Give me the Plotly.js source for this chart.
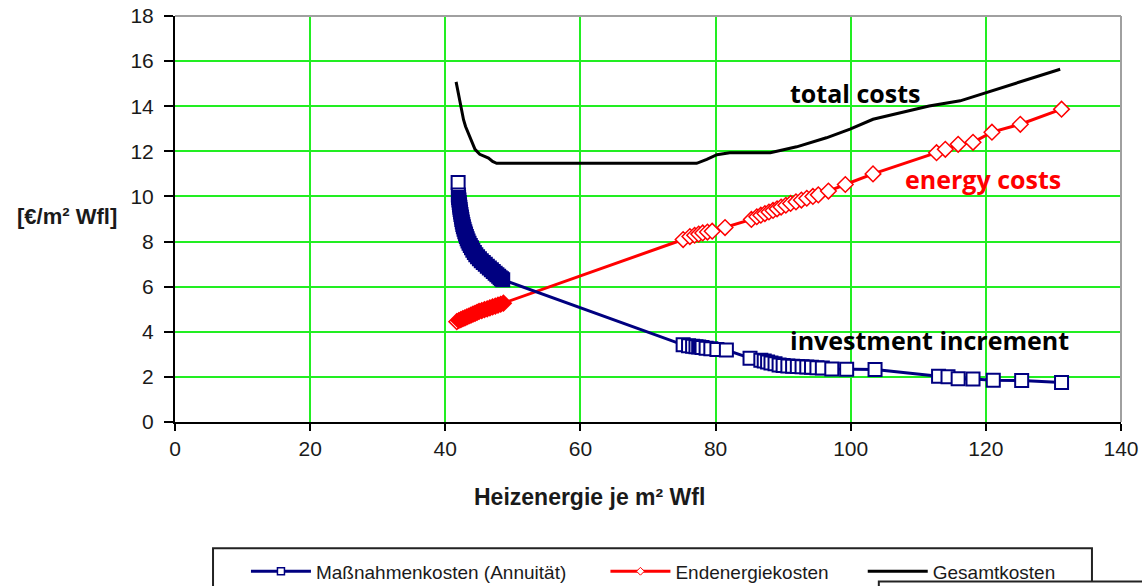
<!DOCTYPE html>
<html>
<head>
<meta charset="utf-8">
<script src="https://cdn.plot.ly/plotly-3.0.1.min.js"></script>
<style>html,body{margin:0;padding:0;background:#fff;}#chart{width:1142px;height:586px;}</style>
</head>
<body>
<div id="chart"></div>
<script>
// Maßnahmenkosten (Annuität) – blue squares
const massX = [41.9, 41.93, 41.97, 42.02, 42.07, 42.11, 42.16, 42.20, 42.26, 42.32, 42.39, 42.45, 42.52, 42.60, 42.68, 42.78, 42.89, 43.00, 43.12, 43.24, 43.37, 43.52, 43.70, 43.88, 44.08, 44.30, 44.52, 44.78, 45.05, 45.33, 45.62, 45.92, 46.22, 46.52, 46.82, 47.10, 47.38, 47.64, 47.90, 48.12, 48.32, 48.50,
  75.2, 76.0, 76.6, 77.1, 77.5, 78.0, 78.6, 79.3, 80.2, 81.6,
  85.1, 86.7, 87.2, 87.7, 88.2, 88.8, 89.4, 90.0, 90.7, 91.4, 92.1, 92.8, 93.5, 94.2, 95.0, 95.8, 97.2, 99.4, 103.6,
  113.0, 114.4, 115.9, 118.1, 121.1, 125.3, 131.2];
const massY = [10.62, 10.06, 9.95, 9.84, 9.73, 9.62, 9.52, 9.42, 9.31, 9.20, 9.09, 8.98, 8.87, 8.76, 8.66, 8.55, 8.44, 8.33, 8.22, 8.12, 8.02, 7.92, 7.82, 7.72, 7.62, 7.52, 7.42, 7.33, 7.24, 7.15, 7.07, 6.99, 6.91, 6.83, 6.75, 6.67, 6.60, 6.53, 6.46, 6.40, 6.35, 6.31,
  3.42, 3.38, 3.36, 3.34, 3.33, 3.30, 3.27, 3.25, 3.21, 3.19,
  2.83, 2.74, 2.70, 2.66, 2.62, 2.58, 2.53, 2.50, 2.48, 2.47, 2.46, 2.45, 2.44, 2.43, 2.41, 2.39, 2.35, 2.34, 2.33,
  2.03, 2.01, 1.92, 1.91, 1.85, 1.84, 1.75];

// Endenergiekosten – red diamonds
const energyX = [41.7, 42.0, 42.3, 42.6, 42.9, 43.2, 43.5, 43.8, 44.1, 44.4, 44.7, 45.0, 45.4, 45.8, 46.2, 46.6, 47.0, 47.4, 47.8, 48.2, 48.6,
  75.2, 76.2, 76.9, 77.5, 78.1, 78.8, 79.5, 81.4,
  85.3, 86.1, 86.7, 87.3, 87.9, 88.5, 89.1, 89.7, 90.4, 91.1, 91.9, 92.7, 93.5, 94.4, 95.2, 96.7, 99.2, 103.3,
  112.7, 114.0, 115.9, 118.1, 120.9, 125.1, 131.2];
const energyY = [4.45, 4.50, 4.54, 4.58, 4.62, 4.66, 4.70, 4.74, 4.78, 4.82, 4.86, 4.90, 4.94, 4.98, 5.02, 5.06, 5.10, 5.14, 5.18, 5.22, 5.27,
  8.09, 8.22, 8.28, 8.33, 8.38, 8.42, 8.46, 8.62,
  8.98, 9.10, 9.17, 9.24, 9.31, 9.38, 9.45, 9.53, 9.61, 9.69, 9.76, 9.84, 9.92, 10.00, 10.07, 10.24, 10.53, 11.00,
  11.94, 12.09, 12.31, 12.40, 12.85, 13.20, 13.87];

// Gesamtkosten – black line
const totalX = [41.6, 41.9, 42.2, 42.5, 42.7, 43.0, 43.4, 43.9, 44.4, 45.1, 45.8, 46.4, 47.0, 47.6, 77.2, 78.7, 80.2, 82.1, 88.1, 92.0, 96.4, 99.9, 103.3, 111.6, 116.2, 120.1, 131.0];
const totalY = [15.08, 14.6, 14.16, 13.7, 13.4, 13.1, 12.83, 12.45, 12.09, 11.87, 11.78, 11.70, 11.55, 11.47, 11.47, 11.64, 11.85, 11.94, 11.94, 12.2, 12.6, 12.98, 13.42, 14.01, 14.24, 14.6, 15.64];

const seriesNames = ['Maßnahmenkosten (Annuität)', 'Endenergiekosten', 'Gesamtkosten'];
const xTitle = 'Heizenergie je m² Wfl';
const yTitle = '[€/m² Wfl]';
const xTicks = [0, 20, 40, 60, 80, 100, 120, 140];
const yTicks = [0, 2, 4, 6, 8, 10, 12, 14, 16, 18];

const navy = '#000080', red = '#ff0000', black = '#000000';

// plot geometry (px per unit): markers that sit almost on top of the previous one look solid
const PX_X = 946 / 140, PX_Y = 405 / 18;
function denseFill(xs, ys, col, thr) {
  return xs.map((x, i) => {
    if (i === 0) return '#ffffff';
    const d = Math.hypot((xs[i - 1] - x) * PX_X, (ys[i - 1] - ys[i]) * PX_Y);
    return d < thr ? col : '#ffffff';
  });
}

const traces = [
  {x: totalX, y: totalY, mode: 'lines', line: {color: black, width: 3}, showlegend: false, hoverinfo: 'skip'},
  {x: energyX, y: energyY, mode: 'lines+markers', line: {color: red, width: 3},
   marker: {symbol: 'diamond', size: 12, color: denseFill(energyX, energyY, red, 3), line: {color: red, width: 1.5}}, showlegend: false},
  {x: massX, y: massY, mode: 'lines+markers', line: {color: navy, width: 3},
   marker: {symbol: 'square', size: 13, color: denseFill(massX, massY, navy, 3.1), line: {color: navy, width: 2}}, showlegend: false},
  // legend entries
  {x: [null], y: [null], name: seriesNames[0], mode: 'lines+markers', line: {color: navy, width: 3},
   marker: {symbol: 'square', size: 7, color: '#ffffff', line: {color: navy, width: 1.5}}, legend: 'legend'},
  {x: [null], y: [null], name: seriesNames[1], mode: 'lines+markers', line: {color: red, width: 3},
   marker: {symbol: 'diamond', size: 6, color: '#ffffff', line: {color: red, width: 1}}, legend: 'legend2'},
  {x: [null], y: [null], name: seriesNames[2], mode: 'lines', line: {color: black, width: 3}, legend: 'legend3'}
];

const legFont = {family: 'Liberation Sans, Arial, sans-serif', size: 19, color: '#1a1a1a'};
const legBase = {orientation: 'h', yanchor: 'middle', xanchor: 'left', bgcolor: 'rgba(0,0,0,0)', borderwidth: 0, font: legFont, itemwidth: 60, itemclick: false, itemdoubleclick: false};

const layout = {
  width: 1142, height: 586,
  margin: {l: 175, r: 21, t: 16, b: 164, autoexpand: false},
  paper_bgcolor: '#ffffff', plot_bgcolor: '#ffffff',
  showlegend: true,
  xaxis: {
    range: [0, 140], tickvals: xTicks, ticktext: xTicks.map(String),
    showgrid: true, gridcolor: '#22ee22', gridwidth: 2,
    zeroline: false, showline: true, linecolor: '#000', linewidth: 2,
    ticks: 'outside', ticklen: 7, tickwidth: 2, tickcolor: '#000',
    tickfont: {family: 'Liberation Sans, Arial, sans-serif', size: 21, color: '#1a1a1a'},
    automargin: false,
    fixedrange: true
  },
  yaxis: {
    range: [0, 18], tickvals: yTicks, ticktext: yTicks.map(String),
    showgrid: true, gridcolor: '#22ee22', gridwidth: 2,
    zeroline: false, showline: true, linecolor: '#000', linewidth: 2,
    ticks: 'outside', ticklen: 9, tickwidth: 2, tickcolor: '#000',
    tickfont: {family: 'Liberation Sans, Arial, sans-serif', size: 21, color: '#1a1a1a'},
    ticklabelstandoff: 6,
    automargin: false,
    fixedrange: true
  },
  legend: Object.assign({}, legBase, {x: 0.075, y: -0.368}),
  legend2: Object.assign({}, legBase, {x: 0.455, y: -0.368}),
  legend3: Object.assign({}, legBase, {x: 0.727, y: -0.368}),
  shapes: [
    {type: 'line', xref: 'paper', yref: 'paper', x0: 0, x1: 1, y0: 1, y1: 1, line: {color: '#a0a0a0', width: 2}},
    {type: 'line', xref: 'paper', yref: 'paper', x0: 1, x1: 1, y0: 0, y1: 1, line: {color: '#a0a0a0', width: 2}},
    {type: 'rect', xref: 'paper', yref: 'paper', x0: 0.0402, x1: 0.9693, y0: -0.311, y1: -0.5, line: {color: '#222', width: 2}, fillcolor: 'rgba(0,0,0,0)'},
    {type: 'rect', xref: 'paper', yref: 'paper', x0: 0.744, x1: 1.05, y0: -0.3926, y1: -0.6, line: {color: '#222', width: 2}, fillcolor: '#ffffff'}
  ],
  annotations: [
    {text: yTitle, xref: 'paper', yref: 'y', x: -0.114, y: 9.11, xanchor: 'center', yanchor: 'middle', showarrow: false,
     font: {family: 'Liberation Sans, Arial, sans-serif', size: 22, color: '#1a1a1a', weight: 'bold'}},
    {text: xTitle, xref: 'x', yref: 'paper', x: 61.3, y: -0.185, xanchor: 'center', yanchor: 'middle', showarrow: false,
     font: {family: 'Liberation Sans, Arial, sans-serif', size: 23, color: '#1a1a1a', weight: 'bold'}},
    {text: 'total costs', xref: 'x', yref: 'y', x: 90.7, y: 14.58, xanchor: 'left', yanchor: 'middle', showarrow: false,
     font: {family: 'Open Sans, sans-serif', size: 25, color: '#000', weight: 'bold'}},
    {text: 'energy costs', xref: 'x', yref: 'y', x: 107.7, y: 10.76, xanchor: 'left', yanchor: 'middle', showarrow: false,
     font: {family: 'Open Sans, sans-serif', size: 25, color: '#ff0000', weight: 'bold'}},
    {text: 'investment increment', xref: 'x', yref: 'y', x: 90.7, y: 3.64, xanchor: 'left', yanchor: 'middle', showarrow: false,
     font: {family: 'Open Sans, sans-serif', size: 25, color: '#000', weight: 'bold'}}
  ]
};

Plotly.newPlot('chart', traces, layout, {displayModeBar: false, staticPlot: true});
</script>
</body>
</html>
